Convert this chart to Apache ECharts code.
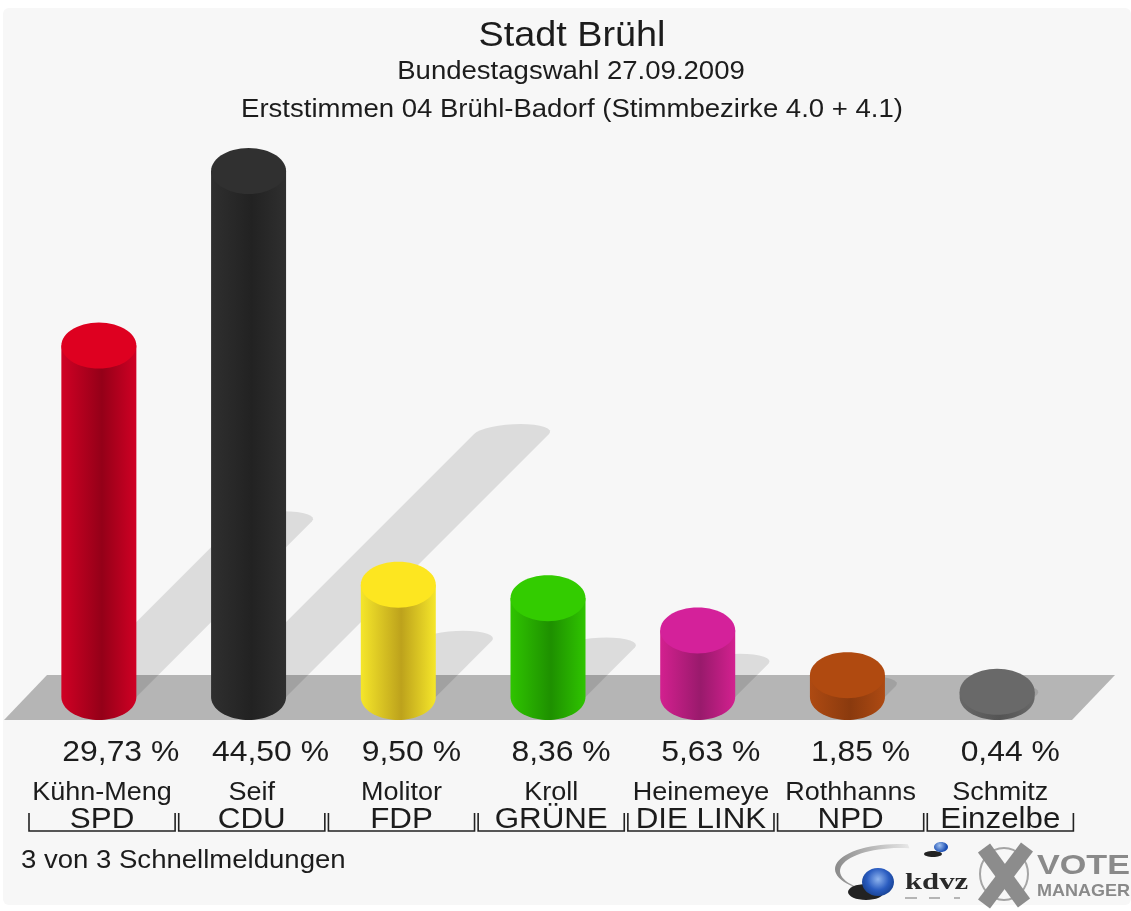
<!DOCTYPE html>
<html><head><meta charset="utf-8"><title>Stadt Brühl</title>
<style>html,body{margin:0;padding:0;background:#fff}#c{width:1131px;height:911px;filter:blur(0.55px)}</style>
<script src="https://cdn.jsdelivr.net/npm/echarts@6/dist/echarts.min.js"></script></head>
<body><div id="c"></div>
<script>
const names = ['Kühn-Meng','Seif','Molitor','Kroll','Heinemeye','Rothhanns','Schmitz'];
const parties = ['SPD','CDU','FDP','GRÜNE','DIE LINK','NPD','Einzelbe'];
const values = [29.73,44.50,9.50,8.36,5.63,1.85,0.44];
const edgeColors = ['#d00024','#2f2f2f','#f5e62a','#2fc400','#d3208f','#ae4a12','#686868'];
const midColors = ['#940018','#222222','#bda21c','#1e9000','#991a6c','#8a3a0e','#545454'];
const topColors = ['#de0020','#303030','#fde620','#33cc00','#d4219a','#b04a10','#696969'];

const F = '"Liberation Sans",Arial,sans-serif';
const SX = 1.08, RX = 37.5, RY = 23;
const chart = echarts.init(document.getElementById('c'));

function arc(cx, cy, rx, ry, a0, a1, n) {
  const p = [];
  for (let i = 0; i <= n; i++) {
    const a = a0 + (a1 - a0) * i / n;
    p.push([cx + rx * Math.cos(a), cy + ry * Math.sin(a)]);
  }
  return p;
}
function txt(text, x, y, size, align, extra) {
  return Object.assign({type:'text', x, y, scaleX:SX, silent:true,
    style:{text, x:0, y:0, textAlign:align, textVerticalAlign:'middle',
      font:size+'px '+F, fill:'#1c1c1c'}}, extra||{});
}

const shadowItem = (p, api) => {
  const i = api.value(0), c = api.coord([i, 0]), t = api.coord([i, api.value(1)]);
  const h = c[1] - t[1], tx = c[0] + h / 2, ty = c[1] - h / 2;
  const pts = [[c[0]-RX, c[1]]].concat(
    arc(tx, ty, RX, 10, Math.PI, 2*Math.PI, 16).map(q => [q[0] + 0.9*(ty-q[1]), q[1]]),
    [[c[0]+RX, c[1]]]);
  return {type:'polygon', shape:{points:pts}, style:{fill:'rgba(0,0,0,0.105)'}};
};
const barItem = (p, api) => {
  const i = api.value(0), c = api.coord([i, 0]), t = api.coord([i, api.value(1)]);
  const side = [[c[0]-RX, t[1]]].concat(arc(c[0], c[1], RX, RY, Math.PI, 0, 40), [[c[0]+RX, t[1]]]);
  return {type:'group', children:[
    {type:'polygon', shape:{points:side}, style:{fill:new echarts.graphic.LinearGradient(0,0,1,0,[
      {offset:0, color:edgeColors[i]},{offset:0.54, color:midColors[i]},{offset:1, color:edgeColors[i]}])}},
    {type:'polygon', shape:{points:arc(c[0], t[1], RX, RY, 0, 2*Math.PI, 60)}, style:{fill:topColors[i]}}
  ]};
};
const labelItem = (p, api) => {
  const i = api.value(0), c = api.coord([i, 0]);
  const band = api.size([1, 0])[0], bx = c[0] + 3.2;
  const pct = api.value(1).toFixed(2).replace('.', ',') + ' %';
  const L = bx - band/2 + 1.8, R = bx + band/2 - 1.8;
  return {type:'group', children:[
    txt(pct, c[0]-RX+1, 753, 29.5, 'left'),
    txt(names[i], bx, 793, 25, 'center'),
    txt(parties[i], bx, 820, 29, 'center'),
    {type:'polyline', shape:{points:[[L,813],[L,831],[R,831],[R,813]]},
     style:{stroke:'#222', lineWidth:1.6, fill:null}}
  ]};
};

const data = values.map((v, i) => [i, v]);
const swoosh = arc(898,869,63,25,Math.PI*0.72,Math.PI*1.55,30).concat(arc(900,871,60,23,Math.PI*1.55,Math.PI*0.72,30));
const deco = {
  bg:{type:'rect', shape:{x:3, y:8, width:1128, height:897, r:6}, style:{fill:'#f7f7f7'}},
  floor:{type:'polygon', shape:{points:[[4,720],[1072,720],[1115,675],[47,675]]}, style:{fill:'#b5b5b5'}}
};
chart.setOption({
  animation:false,
  backgroundColor:'#ffffff',
  grid:{left:24, width:1048, top:106, height:591},
  xAxis:{type:'category', data:names, show:false},
  yAxis:{type:'value', min:0, max:50, show:false},
  graphic:[
    deco.bg, deco.floor,
    txt('Stadt Brühl', 572, 36, 35, 'center'),
    txt('Bundestagswahl 27.09.2009', 571, 72, 25.5, 'center'),
    txt('Erststimmen 04 Brühl-Badorf (Stimmbezirke 4.0 + 4.1)', 572, 110, 25.5, 'center'),
    txt('3 von 3 Schnellmeldungen', 21, 861, 25.5, 'left'),
    // kdvz logo
    {type:'polygon', shape:{points:swoosh}, style:{fill:new echarts.graphic.LinearGradient(0,0,1,0,[{offset:0,color:'#8a8a8a'},{offset:1,color:'#e8e8e8'}])}},
    {type:'ellipse', shape:{cx:933, cy:854, rx:9, ry:3}, style:{fill:'#222'}},
    {type:'ellipse', shape:{cx:941, cy:847, rx:7, ry:5}, style:{fill:new echarts.graphic.RadialGradient(0.4,0.35,0.7,[{offset:0,color:'#9fc0ef'},{offset:1,color:'#1c4fb4'}])}},
    {type:'ellipse', shape:{cx:866, cy:892, rx:18, ry:8}, style:{fill:'#222'}},
    {type:'ellipse', shape:{cx:878, cy:882, rx:16, ry:14}, style:{fill:new echarts.graphic.RadialGradient(0.5,0.4,0.65,[{offset:0,color:'#8fb4ee'},{offset:0.6,color:'#2a5cc0'},{offset:1,color:'#16408f'}])}},
    {type:'text', x:905, y:883, scaleX:1.28, style:{text:'kdvz', x:0, y:0, textVerticalAlign:'middle', font:'bold 24px "Liberation Serif",serif', fill:'#2a2a2a'}},
    {type:'line', shape:{x1:905, y1:898, x2:917, y2:898}, style:{stroke:'#b5b5b5', lineWidth:2}},
    {type:'line', shape:{x1:929, y1:898, x2:940, y2:898}, style:{stroke:'#b5b5b5', lineWidth:2}},
    {type:'line', shape:{x1:954, y1:898, x2:960, y2:898}, style:{stroke:'#b5b5b5', lineWidth:2}},
    // vote manager logo
    {type:'ellipse', shape:{cx:1004, cy:874, rx:24, ry:26}, style:{stroke:'#a5a5a5', lineWidth:2, fill:null}},
    {type:'line', shape:{x1:984, y1:848, x2:1024, y2:903}, style:{stroke:'#8c8c8c', lineWidth:15}},
    {type:'line', shape:{x1:1027, y1:847, x2:984, y2:904}, style:{stroke:'#8c8c8c', lineWidth:15}},
    {type:'text', x:1037, y:866, scaleX:1.22, style:{text:'VOTE', x:0, y:0, textVerticalAlign:'middle', font:'bold 28px '+F, fill:'#8a8a8a'}},
    {type:'text', x:1037, y:891, scaleX:1.06, style:{text:'MANAGER', x:0, y:0, textVerticalAlign:'middle', font:'bold 17px '+F, fill:'#8a8a8a'}}
  ],
  series:[
    {type:'custom', name:'shadow', data, renderItem:shadowItem, silent:true, z:1, clip:false},
    {type:'custom', name:'bars', data, renderItem:barItem, silent:true, z:2, clip:false},
    {type:'custom', name:'labels', data, renderItem:labelItem, silent:true, z:3, clip:false}
  ]
});
</script></body></html>
